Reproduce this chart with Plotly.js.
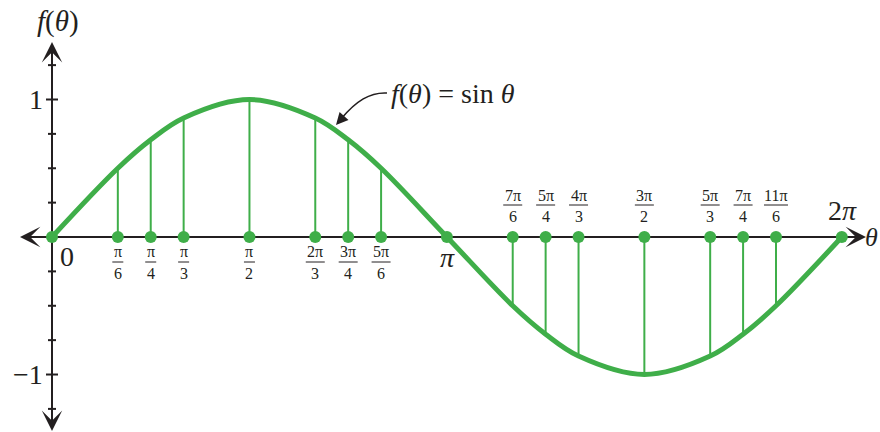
<!DOCTYPE html>
<html>
<head>
<meta charset="utf-8">
<script src="https://cdn.plot.ly/plotly-3.0.1.min.js"></script>
<style>html,body{margin:0;padding:0;background:#fff;}#chart{width:880px;height:432px;}</style>
</head>
<body>
<div id="chart"></div>
<script>
// ---- data ----
const thetaLabels = ['0','π/6','π/4','π/3','π/2','2π/3','3π/4','5π/6','π','7π/6','5π/4','4π/3','3π/2','5π/3','7π/4','11π/6','2π'];
const thetaValues = [0, 0.5236, 0.7854, 1.0472, 1.5708, 2.0944, 2.3562, 2.6180, 3.1416, 3.6652, 3.9270, 4.1888, 4.7124, 5.2360, 5.4978, 5.7596, 6.2832];
const sinValues   = [0, 0.5, 0.707, 0.866, 1, 0.866, 0.707, 0.5, 0, -0.5, -0.707, -0.866, -1, -0.866, -0.707, -0.5, 0];
const yMajorTicks = [1, -1];
const yMajorLabels = ['1', '−1'];
const yMinorTicks = [1.25, 0.75, 0.5, 0.25, -0.25, -0.5, -0.75, -1.25];

// ---- styles ----
const GREEN = '#3fae49';
const INK = '#231f20';
const SERIF = 'Liberation Serif, Times New Roman, serif';
const W = 880, H = 432;
const px = v => v / W;          // pixel -> paper x
const py = v => 1 - v / H;      // pixel -> paper y

// stems
const stemX = [], stemY = [];
thetaValues.forEach((t, i) => {
  if (thetaLabels[i].indexOf('/') >= 0) {
    stemX.push(t, t, null);
    stemY.push(0, sinValues[i], null);
  }
});

const traces = [
  {x: stemX, y: stemY, mode: 'lines', line: {color: GREEN, width: 2}, hoverinfo: 'skip'},
  {x: thetaValues, y: sinValues, mode: 'lines', line: {color: GREEN, width: 5, shape: 'spline'}, hoverinfo: 'skip'},
  {x: thetaValues, y: thetaValues.map(() => 0), mode: 'markers', marker: {color: GREEN, size: 12}, hoverinfo: 'skip'}
];

const shapes = [
  // x axis line
  {type: 'line', layer: 'below', xref: 'paper', yref: 'y', x0: px(26), x1: px(858), y0: 0, y1: 0, line: {color: INK, width: 2}},
  // y axis line
  {type: 'line', layer: 'below', xref: 'x', yref: 'paper', x0: 0, x1: 0, y0: py(422), y1: py(52), line: {color: INK, width: 2}},
  // curved pointer of the function label
  {type: 'path', xref: 'paper', yref: 'paper',
   path: 'M ' + px(387) + ',' + py(93) + ' C ' + px(370) + ',' + py(92) + ' ' + px(356) + ',' + py(101) + ' ' + px(341) + ',' + py(119),
   line: {color: INK, width: 1.6}}
];
yMajorTicks.forEach(v => shapes.push({type: 'line', xref: 'x', yref: 'y', xsizemode: 'pixel', xanchor: 0, x0: -6, x1: 6, y0: v, y1: v, line: {color: INK, width: 2}}));
yMinorTicks.forEach(v => shapes.push({type: 'line', xref: 'x', yref: 'y', xsizemode: 'pixel', xanchor: 0, x0: -4, x1: 4, y0: v, y1: v, line: {color: INK, width: 2}}));

const annotations = [];
const fracFont = {family: SERIF, size: 16, color: INK};
thetaValues.forEach((t, i) => {
  const lab = thetaLabels[i];
  if (lab.indexOf('/') < 0) return;
  const [num, den] = lab.split('/');
  const above = t > 3.2;
  const nShift = above ? 42 : -14;
  const bShift = above ? 32 : -25;
  const dShift = above ? 21 : -36;
  annotations.push({x: t, y: 0, xref: 'x', yref: 'y', xanchor: 'center', yanchor: 'middle', yshift: nShift, text: num, showarrow: false, font: fracFont});
  annotations.push({x: t, y: 0, xref: 'x', yref: 'y', xanchor: 'center', yanchor: 'middle', yshift: dShift, text: den, showarrow: false, font: fracFont});
  const bw = num.length === 1 ? 11 : (num.length === 2 ? 19 : 24);
  shapes.push({type: 'line', xref: 'x', yref: 'y', xsizemode: 'pixel', ysizemode: 'pixel', xanchor: t, yanchor: 0,
    x0: -bw / 2, x1: bw / 2, y0: bShift, y1: bShift, line: {color: INK, width: 1}});
});

const bigFont = {family: SERIF, size: 28, color: INK};
const mid = {xanchor: 'center', yanchor: 'middle', showarrow: false};
// special angle labels
annotations.push(Object.assign({}, mid, {xref: 'paper', yref: 'paper', x: px(67), y: py(256), text: thetaLabels[0], font: bigFont}));
annotations.push(Object.assign({}, mid, {xref: 'paper', yref: 'paper', x: px(447), y: py(257), text: '<i>' + thetaLabels[8] + '</i>', font: bigFont}));
annotations.push(Object.assign({}, mid, {xref: 'paper', yref: 'paper', x: px(842), y: py(210), text: thetaLabels[16].replace('π', '<i>π</i>'), font: bigFont}));
// y labels
yMajorTicks.forEach((v, i) => annotations.push({xref: 'x', yref: 'y', x: 0, y: v, xanchor: 'right', yanchor: 'middle', xshift: -7, text: yMajorLabels[i], showarrow: false, font: bigFont}));
// axis titles
annotations.push(Object.assign({}, mid, {xref: 'paper', yref: 'paper', x: px(58), y: py(21), text: '<i>f</i>(<i>θ</i>)', font: {family: SERIF, size: 29, color: INK}}));
annotations.push({xref: 'paper', yref: 'y', x: 1, y: 0, xanchor: 'right', yanchor: 'middle', text: '<i>θ</i>', showarrow: false, font: {family: SERIF, size: 26, color: INK}});
// arrowheads
const arrowBase = {text: '', showarrow: true, arrowhead: 3, arrowsize: 1.7, arrowwidth: 2, arrowcolor: INK, standoff: 0};
annotations.push(Object.assign({}, arrowBase, {xref: 'paper', yref: 'y', x: px(866), y: 0, ax: -16, ay: 0}));
annotations.push(Object.assign({}, arrowBase, {xref: 'paper', yref: 'y', x: px(20), y: 0, ax: 16, ay: 0}));
annotations.push(Object.assign({}, arrowBase, {xref: 'x', yref: 'paper', x: 0, y: py(42), ax: 0, ay: 16}));
annotations.push(Object.assign({}, arrowBase, {xref: 'x', yref: 'paper', x: 0, y: py(431), ax: 0, ay: -16}));
// function label and its arrowhead
annotations.push({xref: 'paper', yref: 'paper', x: px(389), y: py(94), xanchor: 'left', yanchor: 'middle',
  text: '<i>f</i>(<i>θ</i>) = sin <i>θ</i>', font: {family: SERIF, size: 28, color: INK}, showarrow: false});
annotations.push({xref: 'paper', yref: 'paper', x: px(336), y: py(125), ax: 9, ay: -10, text: '',
  showarrow: true, arrowhead: 2, arrowsize: 1.5, arrowwidth: 1.6, arrowcolor: INK, standoff: 0});

const layout = {
  width: W, height: H,
  margin: {l: 0, r: 0, t: 0, b: 0},
  paper_bgcolor: '#fff', plot_bgcolor: '#fff',
  showlegend: false,
  xaxis: {range: [-0.4137, 6.587], visible: false, fixedrange: true},
  yaxis: {range: [-1.418, 1.7236], visible: false, fixedrange: true},
  shapes: shapes,
  annotations: annotations
};

Plotly.newPlot('chart', traces, layout, {displayModeBar: false, staticPlot: true});
</script>
</body>
</html>
